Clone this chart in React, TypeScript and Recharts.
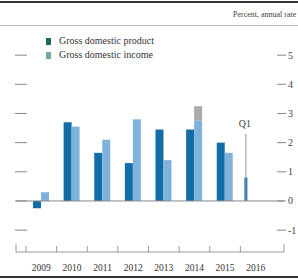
import { ComposedChart, Bar, XAxis, YAxis, ReferenceLine } from 'recharts';

const years = ['2009', '2010', '2011', '2012', '2013', '2014', '2015', '2016'];
const gdp = [-0.25, 2.7, 1.65, 1.3, 2.45, 2.45, 2.0, 0.8];
const gdi = [0.3, 2.55, 2.1, 2.8, 1.4, 2.75, 1.65, null];
const gdiRevision = [null, null, null, null, null, 0.5, null, null];
const q1Line = [null, null, null, null, null, null, null, 2.3];
const yTicks = [-1, 0, 1, 2, 3, 4, 5];

const data = years.map((year, i) => ({
  year,
  gdp: gdp[i],
  gdi: gdi[i],
  gdiRevision: gdiRevision[i],
  q1: q1Line[i],
}));

const font = '"Liberation Serif", "DejaVu Serif", serif';
const gdpColor = '#136ea8';
const gdiColor = '#80b3dc';

// 2016 is a single quarter: drawn as a thin bar
const GdpShape = (props: any) => {
  const { x, y, width, height, payload } = props;
  const top = height < 0 ? y + height : y;
  const h = Math.abs(height);
  if (payload && payload.year === '2016') {
    return <rect x={x - 3} y={top} width={3} height={h} fill={gdpColor} />;
  }
  return <rect x={x} y={top} width={width} height={h} fill={gdpColor} />;
};

const Q1Shape = (props: any) => {
  const { x, y, height } = props;
  if (!height) return null;
  const lx = x - 9.5;
  return (
    <g>
      <line x1={lx} x2={lx} y1={y} y2={y + height} stroke="#999" strokeWidth={1} />
      <text x={lx - 1} y={y - 7} textAnchor="middle" fontSize={10} fontFamily={font} fill="#444">Q1</text>
    </g>
  );
};

const LeftTick = (props: any) => {
  const { x, y } = props;
  return <line x1={x - 1} x2={x + 11} y1={y} y2={y} stroke="#888" />;
};

const RightTick = (props: any) => {
  const { x, y, payload } = props;
  return (
    <g>
      <line x1={x - 7} x2={x + 2} y1={y} y2={y} stroke="#888" />
      <text x={x + 4} y={y + 3.5} fontSize={10} fontFamily={font} fill="#444">{payload.value}</text>
    </g>
  );
};

const YearTick = (props: any) => {
  const { x, y, payload, index } = props;
  const half = 15.3;
  return (
    <g>
      <line x1={x - half} x2={x - half} y1={y} y2={y - 6} stroke="#999" />
      {index === 0 && <line x1={16} x2={16} y1={y} y2={y - 8} stroke="#999" />}
      {index === years.length - 1 && <line x1={284} x2={284} y1={y} y2={y - 8} stroke="#999" />}
      <text x={x} y={y + 19} textAnchor="middle" fontSize={9.5} fontFamily={font} fill="#333">{payload.value}</text>
    </g>
  );
};

export default function App() {
  return (
    <div style={{ position: 'fixed', left: 0, top: 0, width: 298, height: 280, background: '#fff', fontFamily: font, overflow: 'hidden' }}>
      <div style={{ position: 'absolute', left: 0, top: 1, width: 298, height: 2, background: '#333' }} />
      <div style={{ position: 'absolute', left: 0, top: 25, width: 298, height: 1, background: '#bbb' }} />
      <div style={{ position: 'absolute', left: 0, top: 276, width: 298, height: 2, background: '#333' }} />
      <div style={{ position: 'absolute', left: 233, top: 10, fontSize: 8, color: '#444', whiteSpace: 'nowrap' }}>Percent, annual rate</div>

      <ComposedChart
        width={298}
        height={280}
        data={data}
        margin={{ top: 26, right: 0, bottom: 0, left: 0 }}
        barGap={0}
        barSize={8}
      >
        <XAxis
          dataKey="year"
          xAxisId="x"
          height={28}
          padding={{ left: 10, right: 13 }}
          tickSize={0}
          tickMargin={0}
          stroke="#999"
          tick={YearTick}
          interval={0}
        />
        <YAxis
          yAxisId="l"
          orientation="left"
          width={16}
          domain={[-1.75, 6]}
          ticks={yTicks}
          axisLine={false}
          tickLine={false}
          tickSize={0}
          tickMargin={0}
          tick={LeftTick}
          allowDataOverflow
        />
        <YAxis
          yAxisId="r"
          orientation="right"
          width={14}
          domain={[-1.75, 6]}
          ticks={yTicks}
          axisLine={false}
          tickLine={false}
          tickSize={0}
          tickMargin={0}
          tick={RightTick}
          allowDataOverflow
        />
        <ReferenceLine y={0} xAxisId="x" yAxisId="r" stroke="#888" />
        <Bar dataKey="gdp" xAxisId="x" yAxisId="r" stackId="a" fill={gdpColor} shape={GdpShape} isAnimationActive={false} />
        <Bar dataKey="gdi" xAxisId="x" yAxisId="r" stackId="b" fill={gdiColor} isAnimationActive={false} />
        <Bar dataKey="gdiRevision" xAxisId="x" yAxisId="r" stackId="b" fill="#ababab" isAnimationActive={false} />
        <Bar dataKey="q1" xAxisId="x" yAxisId="r" stackId="b" fill="#999" shape={Q1Shape} isAnimationActive={false} />
      </ComposedChart>

      <div style={{ position: 'absolute', left: 46, top: 34, fontSize: 10, color: '#333', lineHeight: '14px' }}>
        <div style={{ display: 'flex', alignItems: 'center' }}>
          <span style={{ width: 5, height: 7, background: '#1d6a5c', marginRight: 8, display: 'inline-block' }} />
          Gross domestic product
        </div>
        <div style={{ display: 'flex', alignItems: 'center' }}>
          <span style={{ width: 5, height: 7, background: '#77a89f', marginRight: 8, display: 'inline-block' }} />
          Gross domestic income
        </div>
      </div>
    </div>
  );
}
